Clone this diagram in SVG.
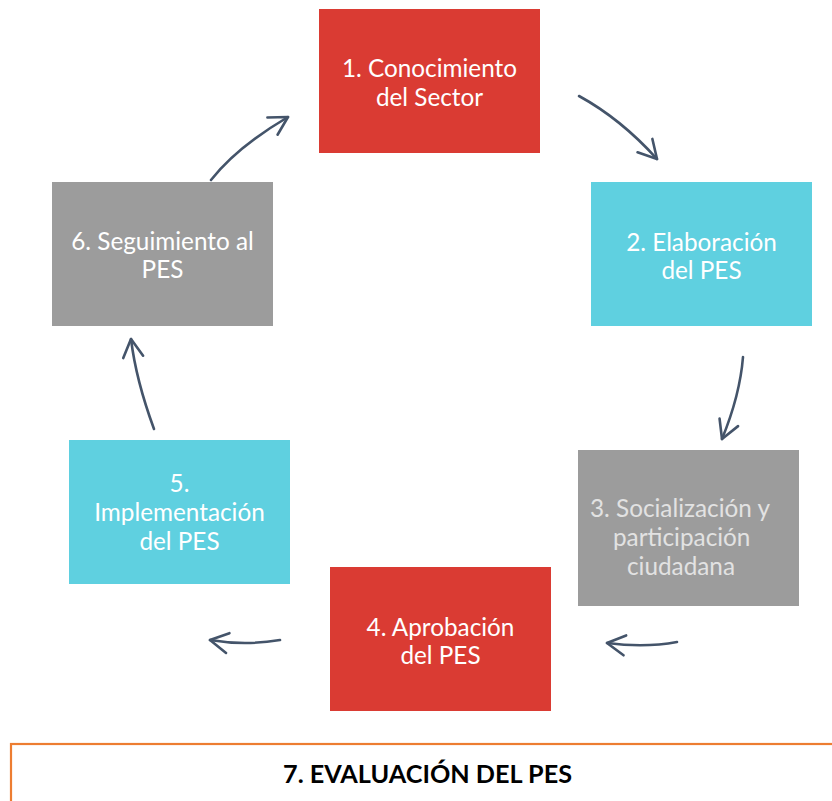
<svg xmlns="http://www.w3.org/2000/svg" width="832" height="801" viewBox="0 0 832 801">
<style>
.lbl{font-family:Lato,"Open Sans","Liberation Sans",sans-serif;font-size:24.3px;fill:#FFFFFF;text-anchor:middle}
.lbl3{font-family:Lato,"Open Sans","Liberation Sans",sans-serif;font-size:24.3px;fill:#E2E2E2}
.red{fill:#DA3B33}
.cyan{fill:#5FD0E0}
.gray{fill:#9C9C9C}
.conn{fill:none;stroke:#44546A;stroke-width:2.6;stroke-linecap:round;marker-end:url(#ah)}
.title{font-family:Lato,"Liberation Sans",sans-serif;font-weight:bold;font-size:25px;fill:#000000;text-anchor:middle}
</style>
<defs>
<marker id="ah" markerUnits="userSpaceOnUse" markerWidth="40" markerHeight="40" viewBox="-20 -20 40 40" refX="0" refY="0" orient="auto" overflow="visible">
<path d="M-18,-10 L0,0 L-18,10" fill="none" stroke="#44546A" stroke-width="2.6" stroke-linecap="round" stroke-linejoin="round"/>
</marker>
</defs>
<rect width="832" height="801" fill="#FFFFFF"/>
<g id="node1">
<rect class="red" x="319" y="9" width="221" height="144"/>
<text class="lbl" x="429.5" y="77">1. Conocimiento</text>
<text class="lbl" x="429.5" y="106">del Sector</text>
</g>
<g id="node2">
<rect class="cyan" x="591" y="182" width="221" height="144"/>
<text class="lbl" x="701.5" y="251">2. Elaboración</text>
<text class="lbl" x="701.5" y="279">del PES</text>
</g>
<g id="node3">
<rect class="gray" x="578" y="450" width="221" height="156"/>
<text class="lbl3" x="590" y="517">3. Socialización y</text>
<text class="lbl3" x="613" y="546">participación</text>
<text class="lbl3" x="627" y="575">ciudadana</text>
</g>
<g id="node4">
<rect class="red" x="330" y="567" width="221" height="144"/>
<text class="lbl" x="440.5" y="636">4. Aprobación</text>
<text class="lbl" x="440.5" y="664">del PES</text>
</g>
<g id="node5">
<rect class="cyan" x="69" y="440" width="221" height="144"/>
<text class="lbl" x="179.5" y="492">5.</text>
<text class="lbl" x="179.5" y="521">Implementación</text>
<text class="lbl" x="179.5" y="550">del PES</text>
</g>
<g id="node6">
<rect class="gray" x="52" y="182" width="221" height="144"/>
<text class="lbl" x="162.5" y="250">6. Seguimiento al</text>
<text class="lbl" x="162.5" y="278">PES</text>
</g>
<g id="node7">
<rect x="11" y="744" width="840" height="80" fill="#FFFFFF" stroke="#ED7D31" stroke-width="2.2"/>
<text class="title" x="427.5" y="783" textLength="289" lengthAdjust="spacingAndGlyphs">7. EVALUACIÓN DEL PES</text>
</g>
<g id="connectors">
<path class="conn" d="M579,96 Q621,119 657,159"/>
<path class="conn" d="M743,357 Q740,395 722,439"/>
<path class="conn" d="M677,642 Q645,648 607,643"/>
<path class="conn" d="M280,640 Q245,646 210,640"/>
<path class="conn" d="M154,429 Q136,380 131,339"/>
<path class="conn" d="M211,180 Q237,147 288,117"/>
</g>
</svg>
